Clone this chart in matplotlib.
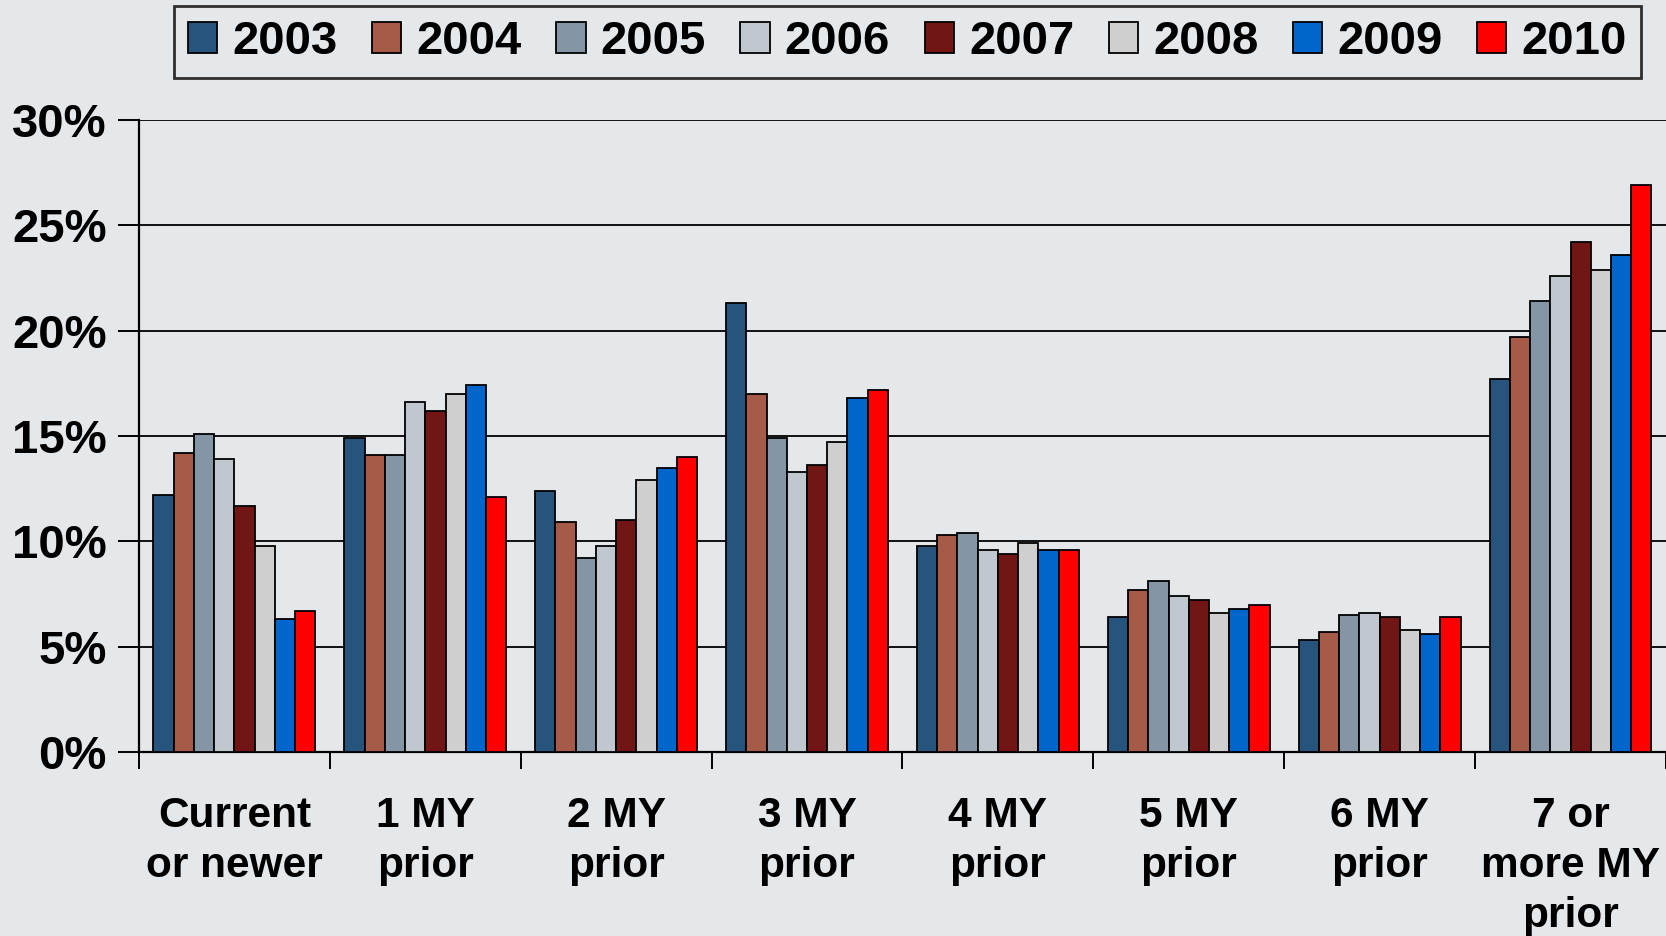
import numpy as np
import matplotlib.pyplot as plt
from matplotlib.ticker import FixedLocator, FuncFormatter

# %%
# data (share of vehicles, %)
categories = [
    "Current\nor newer",
    "1 MY\nprior",
    "2 MY\nprior",
    "3 MY\nprior",
    "4 MY\nprior",
    "5 MY\nprior",
    "6 MY\nprior",
    "7 or\nmore MY\nprior",
]
years = ["2003", "2004", "2005", "2006", "2007", "2008", "2009", "2010"]

y2003 = [12.2, 14.9, 12.4, 21.3, 9.8, 6.4, 5.3, 17.7]
y2004 = [14.2, 14.1, 10.9, 17.0, 10.3, 7.7, 5.7, 19.7]
y2005 = [15.1, 14.1, 9.2, 14.9, 10.4, 8.1, 6.5, 21.4]
y2006 = [13.9, 16.6, 9.8, 13.3, 9.6, 7.4, 6.6, 22.6]
y2007 = [11.7, 16.2, 11.0, 13.6, 9.4, 7.2, 6.4, 24.2]
y2008 = [9.8, 17.0, 12.9, 14.7, 9.9, 6.6, 5.8, 22.9]
y2009 = [6.3, 17.4, 13.5, 16.8, 9.6, 6.8, 5.6, 23.6]
y2010 = [6.7, 12.1, 14.0, 17.2, 9.6, 7.0, 6.4, 26.9]

series = [y2003, y2004, y2005, y2006, y2007, y2008, y2009, y2010]
colors = ["#26547C", "#A65A48", "#8495A6", "#C0C7CF",
          "#721515", "#CFCFCF", "#0066CC", "#FF0000"]

# %%
bg = "#E5E8EB"
plt.rcParams["font.family"] = ["Liberation Sans", "DejaVu Sans"]
plt.rcParams["font.weight"] = "bold"

fig = plt.figure(figsize=(16.66, 9.36), dpi=100, facecolor=bg)
ax = fig.add_axes([0.0834, 0.1966, 0.9166, 0.6752])
ax.set_facecolor(bg)

n = len(years)
width = 0.106
centers = np.arange(len(categories)) + 0.5
for i, (vals, col, yr) in enumerate(zip(series, colors, years)):
    x = centers - width * n / 2 + width * (i + 0.5)
    ax.bar(x, vals, width, color=col, edgecolor="black", linewidth=1.3,
           label=yr, zorder=3)

ax.set_xlim(0, len(categories))
ax.set_ylim(0, 30)

# horizontal gridlines
ax.yaxis.set_major_locator(FixedLocator(np.arange(0, 31, 5)))
ax.yaxis.set_major_formatter(FuncFormatter(lambda v, _: f"{v:.0f}%"))
ax.grid(axis="y", color="black", linewidth=1.3, zorder=0)
ax.set_axisbelow(True)

# group labels centred, tick marks at group boundaries
ax.set_xticks(centers)
ax.set_xticklabels(categories, fontsize=30.5, fontweight="bold", linespacing=1.32, va="top")
ax.set_xticks(np.arange(len(categories) + 1), minor=True)
ax.tick_params(axis="x", which="major", length=0, pad=32)
ax.tick_params(axis="x", which="minor", length=12, width=1.4, direction="out")
ax.tick_params(axis="y", which="major", length=15, width=1.4, direction="out",
               labelsize=34, pad=8)
for lbl in ax.get_yticklabels():
    lbl.set_fontweight("bold")

for side in ["top", "right"]:
    ax.spines[side].set_visible(False)
ax.spines["left"].set_linewidth(1.6)
ax.spines["bottom"].set_linewidth(1.6)

leg = fig.legend(loc="center", bbox_to_anchor=(0.5447, 0.955), ncol=8,
                 prop={"size": 34, "weight": "bold"}, frameon=True, fancybox=False,
                 handlelength=0.62, handleheight=0.62, handletextpad=0.32,
                 columnspacing=0.73, borderpad=0.3, borderaxespad=0)
leg.get_frame().set_edgecolor("black")
leg.get_frame().set_linewidth(2)
leg.get_frame().set_facecolor(bg)

fig.savefig("out.png", dpi=100, facecolor=bg)
